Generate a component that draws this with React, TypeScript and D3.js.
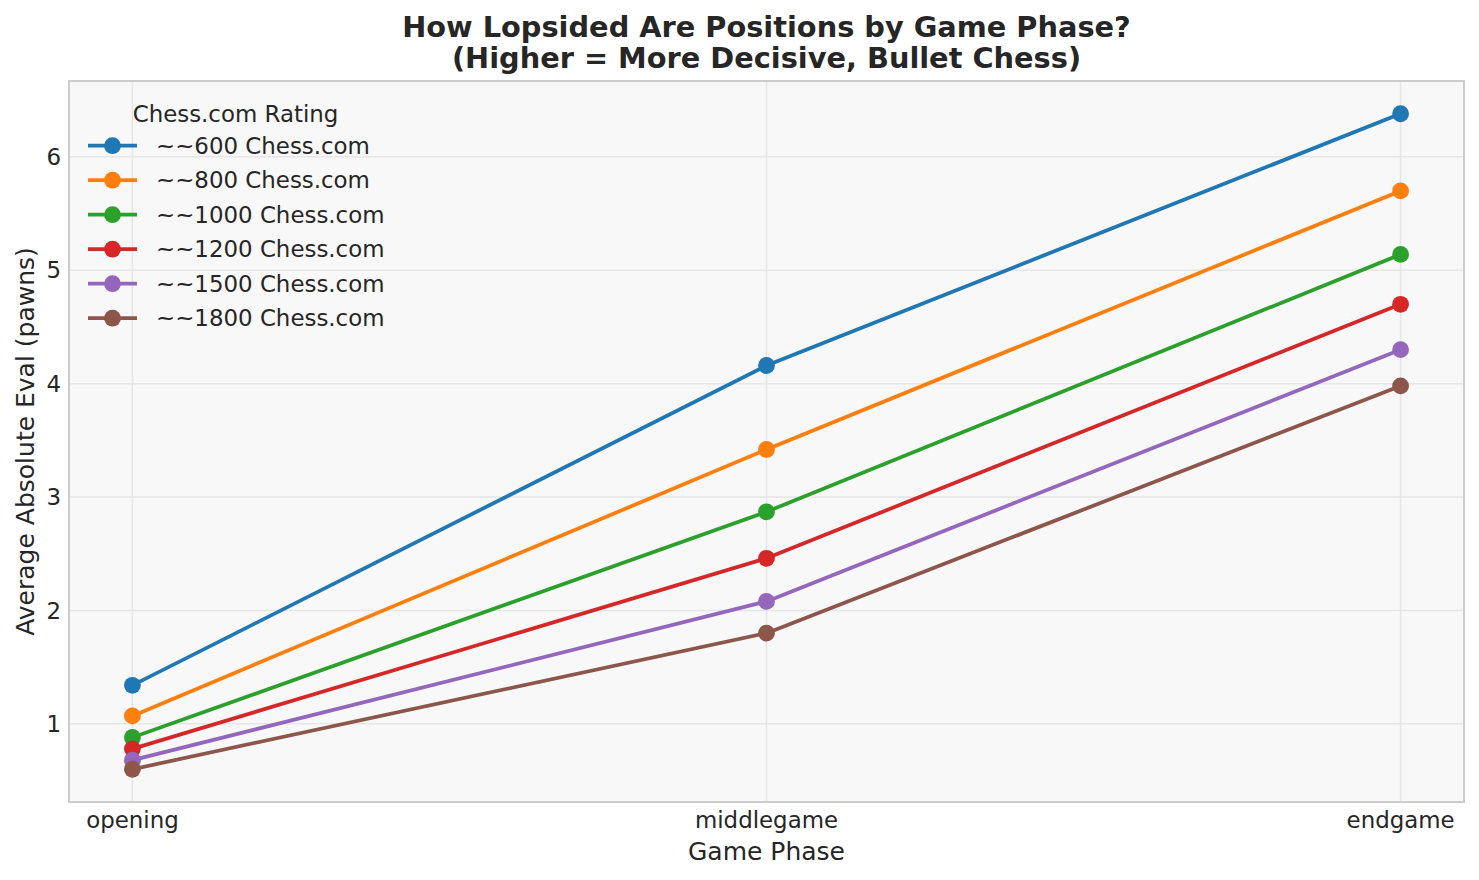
import React from "react";
import * as d3 from "d3";

const phases = ["opening", "middlegame", "endgame"];
const ratingLabels = [
  "~~600 Chess.com",
  "~~800 Chess.com",
  "~~1000 Chess.com",
  "~~1200 Chess.com",
  "~~1500 Chess.com",
  "~~1800 Chess.com",
];
const colors = ["#1f77b4", "#ff7f0e", "#2ca02c", "#d62728", "#9467bd", "#8c564b"];
const r600 = [1.34, 4.16, 6.38];
const r800 = [1.07, 3.42, 5.70];
const r1000 = [0.88, 2.87, 5.14];
const r1200 = [0.78, 2.46, 4.70];
const r1500 = [0.68, 2.08, 4.30];
const r1800 = [0.60, 1.80, 3.98];
const seriesValues = [r600, r800, r1000, r1200, r1500, r1800];
const yTicks = [1, 2, 3, 4, 5, 6];

const W = 1479;
const H = 880;
const M = { left: 69, right: 1464, top: 81, bottom: 802 };
const FONT = "'DejaVu Sans', Verdana, sans-serif";
const TEXT = "#262626";

export default function App() {
  const all = seriesValues.flat();
  const mn = d3.min(all) as number;
  const mx = d3.max(all) as number;
  const pad = (mx - mn) * 0.05;
  const y = d3.scaleLinear().domain([mn - pad, mx + pad]).range([M.bottom, M.top]);
  const x = d3
    .scaleLinear()
    .domain([-0.1, phases.length - 1 + 0.1])
    .range([M.left, M.right]);
  const line = d3
    .line<number>()
    .x((_, i) => x(i))
    .y((d) => y(d));

  const legX = 88;
  const legY0 = 145.7;
  const legDy = 34.5;

  return (
    <svg
      width={W}
      height={H}
      style={{ position: "absolute", left: 0, top: 0, background: "#fff" }}
      fontFamily={FONT}
    >
      <rect x={0} y={0} width={W} height={H} fill="#ffffff" />
      <rect
        x={M.left}
        y={M.top}
        width={M.right - M.left}
        height={M.bottom - M.top}
        fill="#f8f8f8"
      />
      {/* grid */}
      {yTicks.map((t) => (
        <line
          key={"gy" + t}
          x1={M.left}
          x2={M.right}
          y1={y(t)}
          y2={y(t)}
          stroke="#e6e6e6"
          strokeWidth={1.5}
        />
      ))}
      {phases.map((p, i) => (
        <line
          key={"gx" + p}
          x1={x(i)}
          x2={x(i)}
          y1={M.top}
          y2={M.bottom}
          stroke="#e6e6e6"
          strokeWidth={1.5}
        />
      ))}
      {/* series */}
      {seriesValues.map((vals, si) => (
        <g key={"s" + si}>
          <path
            d={line(vals) as string}
            fill="none"
            stroke={colors[si]}
            strokeWidth={3.75}
            strokeLinejoin="round"
            strokeLinecap="square"
          />
          {vals.map((v, i) => (
            <circle key={i} cx={x(i)} cy={y(v)} r={8.4} fill={colors[si]} />
          ))}
        </g>
      ))}
      {/* frame */}
      <rect
        x={M.left}
        y={M.top}
        width={M.right - M.left}
        height={M.bottom - M.top}
        fill="none"
        stroke="#cccccc"
        strokeWidth={2}
      />
      {/* y ticks */}
      {yTicks.map((t) => (
        <text
          key={"ty" + t}
          x={61}
          y={y(t) + 8.2}
          textAnchor="end"
          fontSize={22.9}
          fill={TEXT}
        >
          {t}
        </text>
      ))}
      {/* x ticks */}
      {phases.map((p, i) => (
        <text
          key={"tx" + p}
          x={x(i)}
          y={828}
          textAnchor="middle"
          fontSize={22.9}
          fill={TEXT}
        >
          {p}
        </text>
      ))}
      {/* axis labels */}
      <text
        x={(M.left + M.right) / 2}
        y={860}
        textAnchor="middle"
        fontSize={25}
        fill={TEXT}
      >
        Game Phase
      </text>
      <text
        transform={`translate(33.5, ${(M.top + M.bottom) / 2}) rotate(-90)`}
        textAnchor="middle"
        fontSize={25}
        fill={TEXT}
      >
        Average Absolute Eval (pawns)
      </text>
      {/* title */}
      <text
        x={(M.left + M.right) / 2}
        y={37}
        textAnchor="middle"
        fontSize={28.8}
        fontWeight="bold"
        fill={TEXT}
      >
        How Lopsided Are Positions by Game Phase?
      </text>
      <text
        x={(M.left + M.right) / 2}
        y={68}
        textAnchor="middle"
        fontSize={28.8}
        fontWeight="bold"
        fill={TEXT}
      >
        (Higher = More Decisive, Bullet Chess)
      </text>
      {/* legend */}
      <text x={235.5} y={121.7} textAnchor="middle" fontSize={22.9} fill={TEXT}>
        Chess.com Rating
      </text>
      {ratingLabels.map((lab, i) => {
        const cy = legY0 + i * legDy;
        return (
          <g key={"lg" + i}>
            <line
              x1={legX}
              x2={legX + 49}
              y1={cy}
              y2={cy}
              stroke={colors[i]}
              strokeWidth={3.75}
            />
            <circle cx={legX + 24.5} cy={cy} r={8.4} fill={colors[i]} />
            <text x={156} y={cy + 8.2} fontSize={22.9} fill={TEXT}>
              {lab}
            </text>
          </g>
        );
      })}
    </svg>
  );
}
